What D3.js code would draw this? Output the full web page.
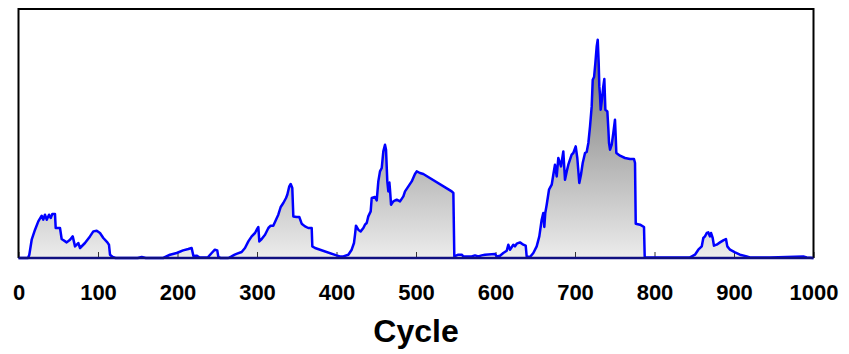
<!DOCTYPE html>
<html>
<head>
<meta charset="utf-8">
<script src="https://cdn.jsdelivr.net/npm/d3@7"></script>
<style>
    body { margin: 0; background: #ffffff; }
    svg { display: block; }
</style>
</head>
<body>
<svg id="chart"></svg>
<script>
// cycle positions and the traced series values (arbitrary units)
const cycles = [
    0, 12, 13.6, 16.6, 20.8, 24.9, 29.2, 31.2, 33.3, 35.5, 38.4, 40.5, 42.5, 45.9, 46.8, 52.2, 54.3, 60.6, 64.8, 68.2,
    71.1, 75.2, 77.4, 83.6, 89.9, 94.1, 98.4, 102.5, 106.7, 111.8, 113.8, 115.1, 118.5, 122, 150, 155, 160, 182, 186, 190.6,
    199, 207, 213.6, 217.8, 220, 224, 228, 238, 243, 247, 250, 251.4, 254, 264, 268, 272, 275, 280.7, 284.9, 289.1,
    293.3, 297.5, 299.6, 301.7, 302.9, 305.9, 310.1, 314.3, 317.2, 320.5, 323.9, 326.8, 329.8, 333.1, 336.5, 338.1, 340.6, 342.4, 344.4, 345.7,
    349.9, 353.2, 356.2, 360.4, 364.5, 368.8, 369.6, 373, 400, 404.4, 408.6, 414.9, 419.1, 422, 423.3, 424.5, 427.4, 430.4, 433.8, 435.8,
    438, 440, 443, 444.3, 448.4, 450.6, 452.6, 454.7, 456.9, 458.9, 461, 462.3, 463.9, 465.2, 466.5, 467.3, 468.6, 471.5, 475.7, 479.9,
    484.1, 486.2, 490.4, 494.6, 498.7, 500.9, 505, 509.2, 544.9, 547, 548.2, 553.2, 557.5, 559.5, 570, 574.2, 578.4, 582.6, 586.8, 599.4,
    601.5, 605.7, 609.8, 614.1, 616.1, 618.2, 622.4, 624.5, 626.7, 630.8, 635, 638, 639.2, 643.4, 647.6, 651.8, 655.1, 658.1, 660.1, 661.4,
    662.6, 664.4, 667.3, 670.7, 672.7, 674.8, 677, 679, 682.4, 685.3, 687.4, 689.6, 691.6, 695.8, 697.9, 700.9, 702.9, 705.4, 707.5, 709.7,
    712.6, 714.7, 716.8, 718.9, 721, 722.3, 724, 725.6, 727.3, 728.6, 729.8, 730.6, 731.4, 732.3, 733.9, 735.6, 736.9, 738.2, 740.7, 742,
    742.8, 744.1, 746.2, 748.2, 750.3, 751.2, 752, 756.6, 762.9, 769.2, 774.2, 775.5, 776.4, 781.8, 786.8, 787.7, 844.7, 850.9, 855.1, 859.4,
    861.4, 863.5, 865.7, 867.7, 869.8, 871.1, 873.2, 874.8, 878.2, 882.4, 886.5, 889.9, 891.6, 895, 901.3, 907.5, 916, 920.1, 945.3, 987.2,
    991.4, 1000
];
const values = [
    0, 0, 3.3, 18.3, 28.3, 36.6, 42.3, 38.3, 43.3, 38.3, 43.3, 40, 44, 44, 30, 30, 19, 15.6, 18.3, 21.6,
    11.6, 15, 10, 15, 21.6, 26.6, 27.3, 25, 20, 15.6, 13.3, 3.3, 1, 0, 0, 1, 0, 0, 1.5, 3.3,
    5, 7.6, 9, 10, 2, 2.3, 0.5, 0.5, 5, 8.3, 7.6, 1, 0, 0, 1.6, 3.3, 4.3, 6, 10, 16.6,
    21.6, 25, 28.3, 31, 16.6, 19, 23.3, 30, 32.3, 32.3, 38.3, 43.3, 51, 55, 60, 63.3, 71.6, 74, 70, 41.6,
    41, 41, 34.3, 31.6, 30, 30, 11.6, 10, 2.6, 1.6, 1.6, 3.3, 8.3, 15, 23.3, 32.3, 28.3, 26.6, 30, 33.3,
    35, 41.6, 46.6, 60, 61, 57.6, 76.6, 86.6, 90, 106.6, 113.3, 108.3, 76.6, 66.6, 75.6, 68.3, 53.3, 56.6, 58.3, 56.6,
    61.6, 66.6, 71.6, 76.6, 84, 86.6, 85, 84, 66.6, 65, 1.6, 3.3, 3.3, 1.6, 1.6, 2.6, 1.6, 2.6, 3.3, 4,
    1.6, 2.3, 5, 7.3, 13.3, 8.3, 13.3, 11.6, 14.3, 15.6, 13.3, 12.3, 1.6, 1, 5, 11.6, 21.6, 38.3, 45, 31,
    45, 53.3, 68.3, 73.3, 83.3, 93.3, 81.6, 100, 91.6, 106.6, 78.3, 86.6, 93.3, 103.3, 105, 111.6, 100, 75, 83.3, 95,
    105, 106, 115, 131.6, 151.6, 178.3, 181, 195, 211.6, 218.3, 195, 171.6, 163.3, 148.3, 158.3, 171.6, 179, 148.3, 146.6, 128.3,
    115, 108.3, 113.3, 125, 138.3, 121.6, 105, 102.3, 100, 99, 99, 95, 34.3, 33.3, 31, 0.6, 0.6, 3.3, 8.3, 11.6,
    20, 21.6, 25, 25.6, 21.6, 25, 20, 12.3, 13.3, 15.6, 17.6, 19, 11.6, 8.3, 5.6, 3.3, 1.6, 0.6, 0.6, 1.6,
    0.6, 0
];
const xTicks = [0, 100, 200, 300, 400, 500, 600, 700, 800, 900, 1000];
const xLabel = "Cycle";

const width = 849;
const height = 354;
const margin = {top: 9, right: 35.5, bottom: 96, left: 18.5};

const data = cycles.map((c, i) => ({cycle: c, value: values[i]}));

const svg = d3.select("#chart")
    .attr("width", width)
    .attr("height", height);

const x = d3.scaleLinear()
    .domain([0, 1000])
    .range([margin.left, width - margin.right]);

const y = d3.scaleLinear()
    .domain([0, 249])
    .range([height - margin.bottom, margin.top]);

// grey gradient, darker towards the top of the tallest peak
const grad = svg.append("defs")
    .append("linearGradient")
    .attr("id", "fillGrad")
    .attr("gradientUnits", "userSpaceOnUse")
    .attr("x1", 0).attr("x2", 0)
    .attr("y1", y(220)).attr("y2", y(0));
grad.append("stop").attr("offset", 0).attr("stop-color", "#6c6c6c");
grad.append("stop").attr("offset", 1).attr("stop-color", "#ececec");

const area = d3.area()
    .x(d => x(d.cycle))
    .y0(y(0))
    .y1(d => y(d.value));

const line = d3.line()
    .x(d => x(d.cycle))
    .y(d => y(d.value));

svg.append("path")
    .datum(data)
    .attr("fill", "url(#fillGrad)")
    .attr("d", area);

// axis with small ticks pointing up into the plot
const xAxis = svg.append("g")
    .attr("transform", `translate(0,${y(0)})`)
    .call(d3.axisBottom(x)
        .tickValues(xTicks)
        .tickFormat(d3.format("d"))
        .tickSizeInner(-6)
        .tickSizeOuter(0)
        .tickPadding(26));
xAxis.select(".domain").remove();
xAxis.selectAll(".tick line")
    .attr("stroke", "#333")
    .attr("stroke-width", 1);
xAxis.selectAll(".tick text")
    .attr("fill", "#000")
    .style("font-family", "'Liberation Sans', Arial, sans-serif")
    .style("font-size", "22px")
    .style("font-weight", "bold");

svg.append("path")
    .datum(data)
    .attr("fill", "none")
    .attr("stroke", "#0000ff")
    .attr("stroke-width", 2.5)
    .attr("stroke-linejoin", "round")
    .attr("d", line);

// frame
const x0 = x(0), x1 = x(1000), yt = margin.top, yb = y(0);
svg.append("path")
    .attr("d", `M${x0},${yb}V${yt}H${x1}V${yb}`)
    .attr("fill", "none")
    .attr("stroke", "#000")
    .attr("stroke-width", 2);
svg.append("line")
    .attr("x1", x0).attr("x2", x1)
    .attr("y1", yb).attr("y2", yb)
    .attr("stroke", "#101080")
    .attr("stroke-width", 2.5);

svg.append("text")
    .attr("x", (x0 + x1) / 2)
    .attr("y", 342)
    .attr("text-anchor", "middle")
    .style("font-family", "'Liberation Sans', Arial, sans-serif")
    .style("font-size", "32px")
    .style("font-weight", "bold")
    .text(xLabel);
</script>
</body>
</html>
